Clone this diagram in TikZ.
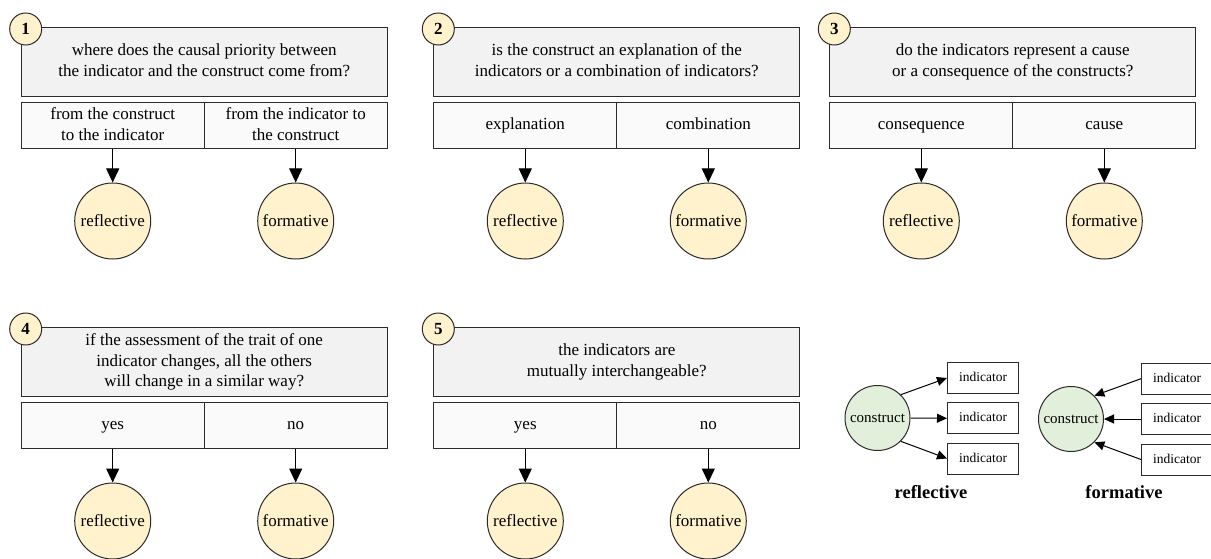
\documentclass[tikz,border=0pt]{standalone}
\usepackage{fontspec}
\setmainfont{Liberation Serif}
\usetikzlibrary{arrows.meta,calc}

\definecolor{qfill}{HTML}{F2F2F2}
\definecolor{ofill}{HTML}{FAFAFA}
\definecolor{cream}{HTML}{FFF2CC}
\definecolor{sage}{HTML}{E2EFDA}
\definecolor{edge}{HTML}{2B2B2B}

\tikzset{
  question/.style={draw=edge, fill=qfill, line width=1pt, minimum width=366pt,
    minimum height=69pt, inner sep=0pt, align=center, anchor=north west,
    font=\fontsize{17}{20.8}\selectfont},
  option/.style={draw=edge, fill=ofill, line width=1pt, minimum width=183pt,
    minimum height=46pt, inner sep=0pt, align=center, anchor=north west,
    font=\fontsize{17}{21}\selectfont},
  outcome/.style={circle, draw=edge, fill=cream, line width=1pt,
    minimum size=76pt, inner sep=0pt, font=\fontsize{17}{20}\selectfont},
  badge/.style={circle, draw=edge, fill=cream, line width=1pt,
    minimum size=32pt, inner sep=0pt, font=\bfseries\fontsize{17}{20}\selectfont},
  flow/.style={-{Triangle[length=14pt,width=13pt]}, line width=1pt},
  construct/.style={circle, draw=edge, fill=sage, line width=1pt,
    minimum size=65pt, inner sep=0pt, font=\fontsize{15}{18}\selectfont},
  indicator/.style={draw=edge, fill=white, line width=1pt, minimum width=71pt,
    minimum height=31pt, inner sep=0pt, text height=9pt, text depth=2pt,
    font=\fontsize{13.5}{16}\selectfont},
  link/.style={-{Triangle[length=10pt,width=9pt]}, line width=1pt},
  caption/.style={font=\bfseries\fontsize{18.5}{22}\selectfont}
}

% One decision panel: id, left x, top y, number, question, left answer, right answer
\newcommand\qpanel[7]{%
  \node[question] (q#1) at (#2,#3) {\strut#5\strut};
  \node[option] (yes#1) at (#2,#3+75) {\strut#6\strut};
  \node[option] (no#1) at (#2+183,#3+75) {\strut#7\strut};
  \node[outcome] (refl#1) at ($(yes#1.south)+(0,72)$) {reflective};
  \node[outcome] (form#1) at ($(no#1.south)+(0,72)$) {formative};
  \draw[flow] (yes#1.south) -- (refl#1.north);
  \draw[flow] (no#1.south) -- (form#1.north);
  \node[badge] (badge#1) at (#2+5,#3+2) {#4};
}

\begin{document}
\begin{tikzpicture}[x=1pt,y=-1pt]
  \fill[white] (0,0) rectangle (1211,559);
  \useasboundingbox (0,0) rectangle (1211,559);

  \qpanel{a}{20.7}{27}{1}{where does the causal priority between\\the indicator and the construct come from?}
    {from the construct\\to the indicator}{from the indicator to\\the construct}
  \qpanel{b}{433.3}{27}{2}{is the construct an explanation of the\\indicators or a combination of indicators?}
    {explanation}{combination}
  \qpanel{c}{829.3}{27}{3}{do the indicators represent a cause\\or a consequence of the constructs?}
    {consequence}{cause}
  \qpanel{d}{20.7}{327}{4}{if the assessment of the trait of one\\indicator changes, all the others\\will change in a similar way?}
    {yes}{no}
  \qpanel{e}{433.3}{327}{5}{the indicators are\\mutually interchangeable?}
    {yes}{no}

  % reflective measurement model
  \node[construct] (rc) at (877.5,418) {construct};
  \node[indicator] (ri1) at (983,378) {indicator};
  \node[indicator] (ri2) at (983,418.3) {indicator};
  \node[indicator] (ri3) at (983,458.5) {indicator};
  \draw[link] (rc.45) -- (ri1.west);
  \draw[link] (rc.east) -- (ri2.west);
  \draw[link] (rc.-45) -- (ri3.west);
  \node[caption] (rcap) at (931,492) {reflective};

  % formative measurement model
  \node[construct] (fc) at (1071,419) {construct};
  \node[indicator] (fi1) at (1177,378.7) {indicator};
  \node[indicator] (fi2) at (1177,419) {indicator};
  \node[indicator] (fi3) at (1177,459.5) {indicator};
  \draw[link] (fi1.west) -- (fc.45);
  \draw[link] (fi2.west) -- (fc.east);
  \draw[link] (fi3.west) -- (fc.-45);
  \node[caption] (fcap) at (1124,492) {formative};
\end{tikzpicture}
\end{document}
